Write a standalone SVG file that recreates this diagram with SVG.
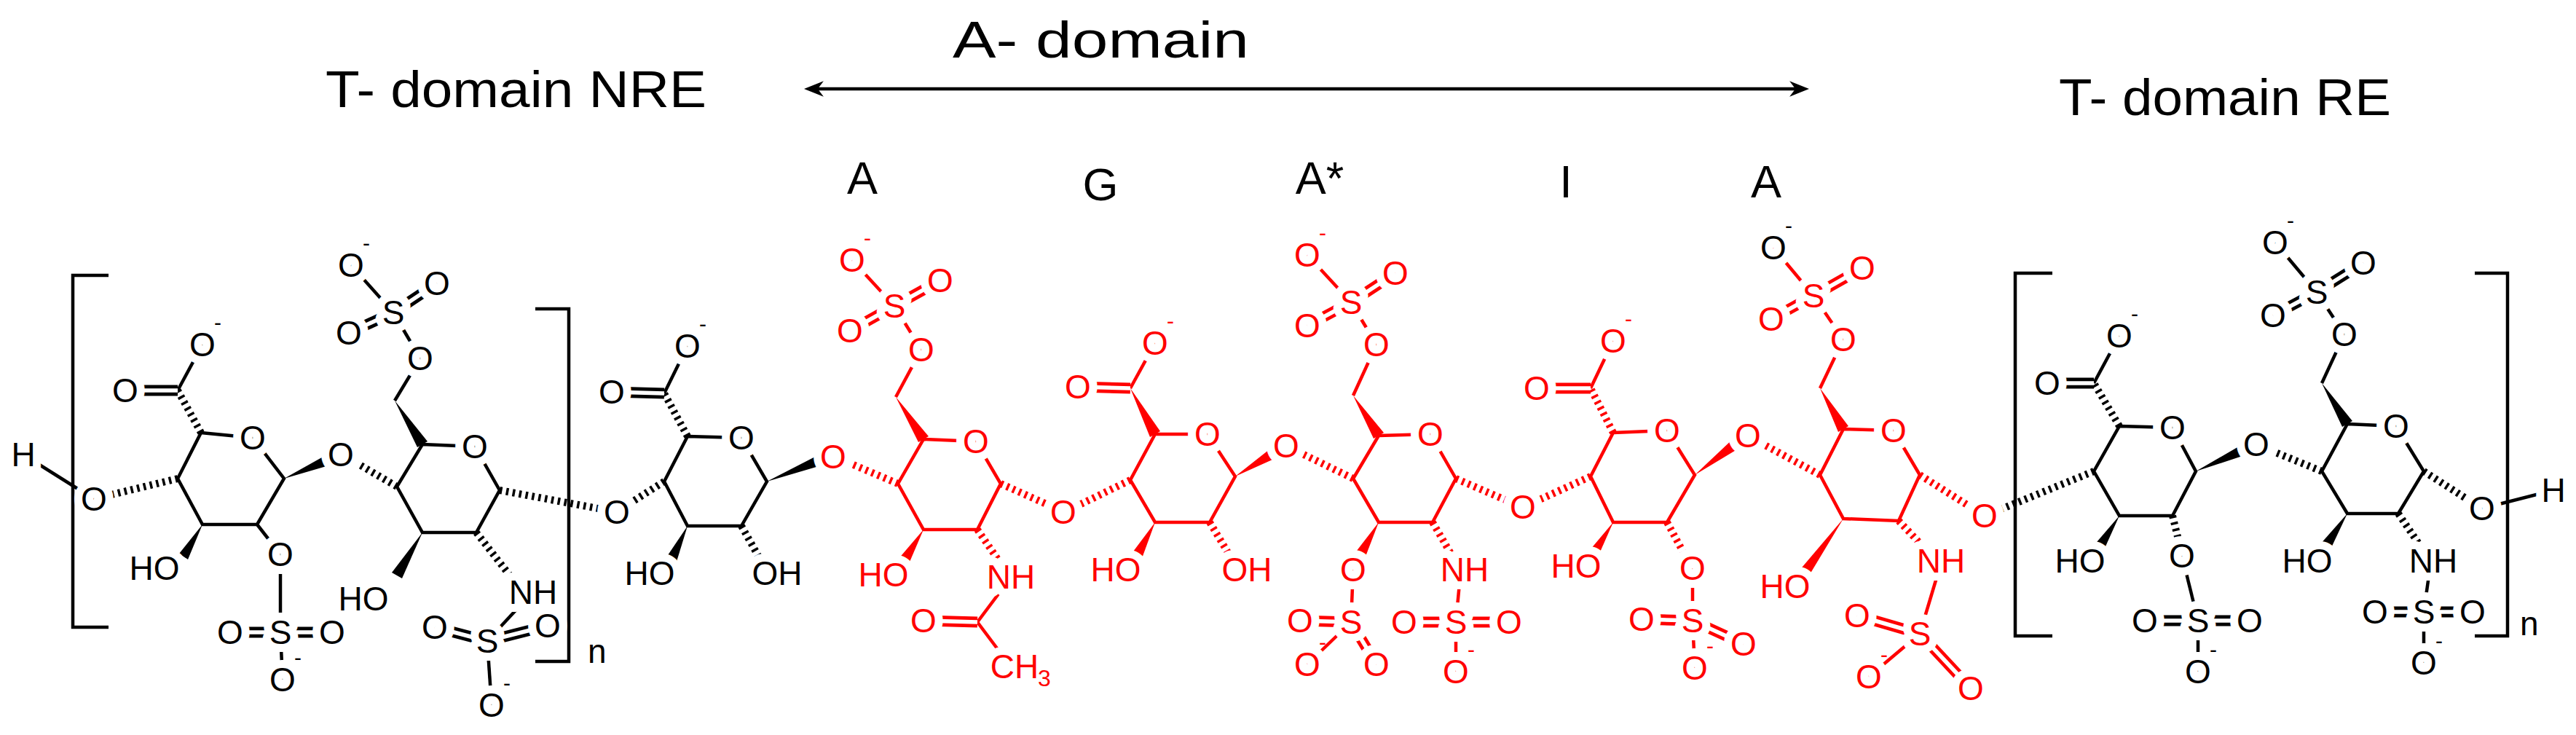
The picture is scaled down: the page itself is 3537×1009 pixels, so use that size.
<svg xmlns="http://www.w3.org/2000/svg" width="3537" height="1009" viewBox="0 0 3537 1009">
<defs>
<style>
.k{stroke:#000;fill:#000;color:#000}
.r{stroke:#f00;fill:#f00;color:#f00}
line,path.s{stroke-width:4.5;fill:none;stroke-linecap:butt}
path.ring{stroke-width:4.5;fill:none;stroke-linejoin:miter}
.h{stroke-width:10;stroke-dasharray:3.5 5.5}
.d1{stroke-width:15}
.d2{stroke:#fff;stroke-width:5.5}
polygon{stroke:none}
text{font-family:"Liberation Sans",Arial,sans-serif;stroke:none}
.t{font-size:46px;text-anchor:middle;dominant-baseline:central;stroke:#fff;stroke-width:22px;paint-order:stroke;stroke-linejoin:round}
.m{font-size:30px;text-anchor:middle;stroke:none}
.big{font-size:70px;fill:#000}
.let{font-size:63px;fill:#000;text-anchor:middle}
</style>
<marker id="ah" viewBox="0 0 20 20" refX="14" refY="10" markerWidth="6" markerHeight="6" orient="auto-start-reverse" markerUnits="strokeWidth">
<path d="M0,2 L20,10 L0,18 L6,10 Z" fill="#000"/>
</marker>
</defs>
<rect width="3537" height="1009" fill="#fff"/>

<g id="titles">
<text class="big" x="447" y="147" textLength="523" lengthAdjust="spacingAndGlyphs">T- domain NRE</text>
<text class="big" x="1308" y="79" textLength="407" lengthAdjust="spacingAndGlyphs">A- domain</text>
<text class="big" x="2827" y="158" textLength="456" lengthAdjust="spacingAndGlyphs">T- domain RE</text>
<text class="let" x="1184" y="266">A</text>
<text class="let" x="1511" y="275">G</text>
<text class="let" x="1812" y="266">A*</text>
<text class="let" x="2150" y="271">I</text>
<text class="let" x="2425" y="271">A</text>
</g>

<g id="connectors">
<line x1="1112" y1="122" x2="2476" y2="122" stroke="#000" stroke-width="5" marker-start="url(#ah)" marker-end="url(#ah)"/>
</g>

<g id="brackets" class="k">
<path class="s" d="M149,378 H100 V861 H149"/>
<path class="s" d="M735,424 H781 V908 H735"/>
<text x="807" y="910" style="font-size:46px;fill:#000">n</text>
<path class="s" d="M2818,375 H2767 V873 H2818"/>
<path class="s" d="M3398,375 H3443 V873 H3398"/>
<text x="3460" y="872" style="font-size:46px;fill:#000">n</text>
</g>

<g id="U1" class="k">
<path class="ring" d="M276,594 L347,601 L390,657 L353,720 L278,720 L244,657 Z"/>
<line class="h" x1="276" y1="594" x2="244" y2="536"/>
<line class="h" x1="244" y1="657" x2="145" y2="681"/>
<line x1="244" y1="536" x2="278" y2="473"/>
<line x1="32" y1="624" x2="129" y2="685"/>
<line x1="353" y1="720" x2="385" y2="761"/>
<line x1="385" y1="761" x2="385" y2="868"/>
<line x1="385" y1="868" x2="388" y2="933"/>
<line class="d1" x1="244" y1="536" x2="172" y2="536"/><line class="d2" x1="244" y1="536" x2="172" y2="536"/>
<line class="d1" x1="385" y1="868" x2="316" y2="868"/><line class="d2" x1="385" y1="868" x2="316" y2="868"/>
<line class="d1" x1="385" y1="868" x2="456" y2="868"/><line class="d2" x1="385" y1="868" x2="456" y2="868"/>
<polygon points="278,720 246,760 258,768"/>
<polygon points="390,657 455,638 449,624"/>
<text class="t" x="347" y="601">O</text>
<text class="t" x="172" y="536">O</text>
<text class="t" x="278" y="473">O</text><text class="m" x="299" y="453">-</text>
<text class="t" x="32" y="624">H</text>
<text class="t" x="212" y="780">HO</text>
<text class="t" x="385" y="761">O</text>
<text class="t" x="385" y="868">S</text>
<text class="t" x="316" y="868">O</text>
<text class="t" x="456" y="868">O</text>
<text class="t" x="388" y="933">O</text><text class="m" x="409" y="913">-</text>
</g>

<g id="N1" class="k">
<path class="ring" d="M580,610 L652,613 L686,673 L654,731 L580,731 L545,668 Z"/>
<line class="h" x1="545" y1="668" x2="480" y2="630"/>
<line class="h" x1="654" y1="731" x2="700" y2="790"/>
<line class="h" x1="686" y1="673" x2="832" y2="700"/>
<line x1="542" y1="550" x2="577" y2="492"/>
<line x1="577" y1="492" x2="540" y2="429"/>
<line x1="540" y1="429" x2="482" y2="364"/>
<line x1="720" y1="825" x2="669" y2="880"/>
<line x1="669" y1="880" x2="675" y2="968"/>
<line class="d1" x1="540" y1="429" x2="600" y2="389"/><line class="d2" x1="540" y1="429" x2="600" y2="389"/>
<line class="d1" x1="540" y1="429" x2="479" y2="457"/><line class="d2" x1="540" y1="429" x2="479" y2="457"/>
<line class="d1" x1="669" y1="880" x2="597" y2="861"/><line class="d2" x1="669" y1="880" x2="597" y2="861"/>
<line class="d1" x1="669" y1="880" x2="752" y2="859"/><line class="d2" x1="669" y1="880" x2="752" y2="859"/>
<polygon points="542,550 573,614 587,606"/>
<polygon points="580,731 538,786 552,794"/>
<text class="t" x="652" y="613">O</text>
<text class="t" x="577" y="492">O</text>
<text class="t" x="540" y="429">S</text>
<text class="t" x="482" y="364">O</text><text class="m" x="503" y="344">-</text>
<text class="t" x="600" y="389">O</text>
<text class="t" x="479" y="457">O</text>
<text class="t" x="499" y="822">HO</text>
<text class="t" x="732" y="813">NH</text>
<text class="t" x="669" y="880">S</text>
<text class="t" x="597" y="861">O</text>
<text class="t" x="752" y="859">O</text>
<text class="t" x="675" y="968">O</text><text class="m" x="696" y="948">-</text>
</g>

<g id="U2" class="k">
<path class="ring" d="M944,599 L1018,601 L1053,661 L1018,722 L944,722 L912,661 Z"/>
<line class="h" x1="944" y1="599" x2="912" y2="540"/>
<line class="h" x1="912" y1="661" x2="860" y2="694"/>
<line class="h" x1="1018" y1="722" x2="1045" y2="770"/>
<line x1="912" y1="540" x2="944" y2="475"/>
<line class="d1" x1="912" y1="540" x2="840" y2="538"/><line class="d2" x1="912" y1="540" x2="840" y2="538"/>
<polygon points="944,722 915,765 929,771"/>
<polygon points="1053,661 1131,638 1125,624"/>
<text class="t" x="1018" y="601">O</text>
<text class="t" x="840" y="538">O</text>
<text class="t" x="944" y="475">O</text><text class="m" x="965" y="455">-</text>
<text class="t" x="892" y="787">HO</text>
<text class="t" x="1067" y="787">OH</text>
</g>

<g id="N2" class="r">
<path class="ring" d="M1268,603 L1340,606 L1374,664 L1342,727 L1268,727 L1233,664 Z"/>
<line class="h" x1="1233" y1="664" x2="1160" y2="633"/>
<line class="h" x1="1342" y1="727" x2="1375" y2="775"/>
<line class="h" x1="1374" y1="664" x2="1448" y2="697"/>
<line x1="1230" y1="545" x2="1265" y2="480"/>
<line x1="1265" y1="480" x2="1228" y2="420"/>
<line x1="1228" y1="420" x2="1170" y2="357"/>
<line x1="1375" y1="810" x2="1342" y2="854"/>
<line x1="1342" y1="854" x2="1375" y2="898"/>
<line class="d1" x1="1228" y1="420" x2="1291" y2="385"/><line class="d2" x1="1228" y1="420" x2="1291" y2="385"/>
<line class="d1" x1="1228" y1="420" x2="1167" y2="454"/><line class="d2" x1="1228" y1="420" x2="1167" y2="454"/>
<line class="d1" x1="1342" y1="854" x2="1268" y2="852"/><line class="d2" x1="1342" y1="854" x2="1268" y2="852"/>
<polygon points="1230,545 1261,607 1275,599"/>
<polygon points="1268,727 1233,768 1247,776"/>
<text class="t" x="1340" y="606">O</text>
<text class="t" x="1265" y="480">O</text>
<text class="t" x="1228" y="420">S</text>
<text class="t" x="1170" y="357">O</text><text class="m" x="1191" y="337">-</text>
<text class="t" x="1291" y="385">O</text>
<text class="t" x="1167" y="454">O</text>
<text class="t" x="1213" y="789">HO</text>
<text class="t" x="1388" y="792">NH</text>
<text class="t" x="1268" y="852">O</text>
<text class="t" x="1393" y="915">CH</text>
<text class="m" x="1434" y="942" style="font-size:32px">3</text>
</g>

<g id="G" class="r">
<path class="ring" d="M1586,596 L1658,596 L1696,654 L1661,717 L1586,717 L1552,659 Z"/>
<line class="h" x1="1552" y1="659" x2="1474" y2="697"/>
<line class="h" x1="1661" y1="717" x2="1690" y2="765"/>
<line x1="1552" y1="533" x2="1586" y2="471"/>
<line class="d1" x1="1552" y1="533" x2="1480" y2="531"/><line class="d2" x1="1552" y1="533" x2="1480" y2="531"/>
<polygon points="1552,533 1579,600 1593,592"/>
<polygon points="1586,717 1553,761 1567,769"/>
<polygon points="1696,654 1756,627 1748,613"/>
<text class="t" x="1658" y="596">O</text>
<text class="t" x="1480" y="531">O</text>
<text class="t" x="1586" y="471">O</text><text class="m" x="1607" y="451">-</text>
<text class="t" x="1532" y="782">HO</text>
<text class="t" x="1712" y="782">OH</text>
</g>

<g id="N3" class="r">
<path class="ring" d="M1893,598 L1964,596 L1999,657 L1967,717 L1893,717 L1858,657 Z"/>
<line class="h" x1="1858" y1="657" x2="1780" y2="619"/>
<line class="h" x1="1967" y1="717" x2="1995" y2="765"/>
<line class="h" x1="1999" y1="657" x2="2078" y2="691"/>
<line x1="1858" y1="543" x2="1890" y2="473"/>
<line x1="1890" y1="473" x2="1855" y2="415"/>
<line x1="1855" y1="415" x2="1795" y2="350"/>
<line x1="1858" y1="782" x2="1855" y2="854"/>
<line x1="1855" y1="854" x2="1795" y2="912"/>
<line x1="2005" y1="790" x2="1999" y2="854"/>
<line x1="1999" y1="854" x2="1999" y2="922"/>
<line class="d1" x1="1855" y1="415" x2="1916" y2="375"/><line class="d2" x1="1855" y1="415" x2="1916" y2="375"/>
<line class="d1" x1="1855" y1="415" x2="1795" y2="447"/><line class="d2" x1="1855" y1="415" x2="1795" y2="447"/>
<line class="d1" x1="1855" y1="854" x2="1785" y2="852"/><line class="d2" x1="1855" y1="854" x2="1785" y2="852"/>
<line class="d1" x1="1855" y1="854" x2="1890" y2="912"/><line class="d2" x1="1855" y1="854" x2="1890" y2="912"/>
<line class="d1" x1="1999" y1="854" x2="1928" y2="854"/><line class="d2" x1="1999" y1="854" x2="1928" y2="854"/>
<line class="d1" x1="1999" y1="854" x2="2072" y2="854"/><line class="d2" x1="1999" y1="854" x2="2072" y2="854"/>
<polygon points="1858,543 1886,602 1900,594"/>
<polygon points="1893,717 1859,761 1873,769"/>
<text class="t" x="1964" y="596">O</text>
<text class="t" x="1890" y="473">O</text>
<text class="t" x="1855" y="415">S</text>
<text class="t" x="1795" y="350">O</text><text class="m" x="1816" y="330">-</text>
<text class="t" x="1916" y="375">O</text>
<text class="t" x="1795" y="447">O</text>
<text class="t" x="1858" y="782">O</text>
<text class="t" x="1855" y="854">S</text>
<text class="t" x="1785" y="852">O</text>
<text class="t" x="1795" y="912">O</text><text class="m" x="1816" y="892">-</text>
<text class="t" x="1890" y="912">O</text>
<text class="t" x="2011" y="782">NH</text>
<text class="t" x="1999" y="854">S</text>
<text class="t" x="1928" y="854">O</text>
<text class="t" x="2072" y="854">O</text>
<text class="t" x="1999" y="922">O</text><text class="m" x="2020" y="902">-</text>
</g>

<g id="I" class="r">
<path class="ring" d="M2215,594 L2289,591 L2327,652 L2289,717 L2215,717 L2184,654 Z"/>
<line class="h" x1="2215" y1="594" x2="2184" y2="533"/>
<line class="h" x1="2184" y1="654" x2="2105" y2="690"/>
<line class="h" x1="2289" y1="717" x2="2315" y2="765"/>
<line x1="2184" y1="533" x2="2215" y2="468"/>
<line x1="2324" y1="780" x2="2324" y2="852"/>
<line x1="2324" y1="852" x2="2327" y2="917"/>
<line class="d1" x1="2184" y1="533" x2="2110" y2="533"/><line class="d2" x1="2184" y1="533" x2="2110" y2="533"/>
<line class="d1" x1="2324" y1="852" x2="2254" y2="850"/><line class="d2" x1="2324" y1="852" x2="2254" y2="850"/>
<line class="d1" x1="2324" y1="852" x2="2394" y2="884"/><line class="d2" x1="2324" y1="852" x2="2394" y2="884"/>
<polygon points="2215,717 2178,761 2192,769"/>
<polygon points="2327,652 2390,614 2380,602"/>
<text class="t" x="2289" y="591">O</text>
<text class="t" x="2110" y="533">O</text>
<text class="t" x="2215" y="468">O</text><text class="m" x="2236" y="448">-</text>
<text class="t" x="2164" y="777">HO</text>
<text class="t" x="2324" y="780">O</text>
<text class="t" x="2324" y="852">S</text>
<text class="t" x="2254" y="850">O</text>
<text class="t" x="2394" y="884">O</text>
<text class="t" x="2327" y="917">O</text><text class="m" x="2348" y="897">-</text>
</g>

<g id="N4" class="r">
<path class="ring" d="M2531,589 L2600,591 L2636,652 L2607,715 L2531,712 L2499,652 Z"/>
<line class="h" x1="2499" y1="652" x2="2414" y2="606"/>
<line class="h" x1="2607" y1="715" x2="2645" y2="755"/>
<line class="h" x1="2636" y1="652" x2="2712" y2="700"/>
<line x1="2499" y1="533" x2="2531" y2="466"/>
<line x1="2531" y1="466" x2="2490" y2="406"/>
<line x1="2490" y1="406" x2="2435" y2="340"/>
<line x1="2660" y1="790" x2="2636" y2="870"/>
<line x1="2636" y1="870" x2="2566" y2="929"/>
<line class="d1" x1="2490" y1="406" x2="2557" y2="368"/><line class="d2" x1="2490" y1="406" x2="2557" y2="368"/>
<line class="d1" x1="2490" y1="406" x2="2432" y2="438"/><line class="d2" x1="2490" y1="406" x2="2432" y2="438"/>
<line class="d1" x1="2636" y1="870" x2="2550" y2="845"/><line class="d2" x1="2636" y1="870" x2="2550" y2="845"/>
<line class="d1" x1="2636" y1="870" x2="2706" y2="945"/><line class="d2" x1="2636" y1="870" x2="2706" y2="945"/>
<polygon points="2499,533 2524,593 2538,585"/>
<polygon points="2531,712 2469,785 2481,795"/>
<text class="t" x="2600" y="591">O</text>
<text class="t" x="2531" y="466">O</text>
<text class="t" x="2490" y="406">S</text>
<text class="t" x="2435" y="340" fill="#000">O</text><text class="m" x="2456" y="320" fill="#000">-</text>
<text class="t" x="2557" y="368">O</text>
<text class="t" x="2432" y="438">O</text>
<text class="t" x="2451" y="805">HO</text>
<text class="t" x="2665" y="770">NH</text>
<text class="t" x="2636" y="870">S</text>
<text class="t" x="2550" y="845">O</text>
<text class="t" x="2566" y="929">O</text><text class="m" x="2587" y="909">-</text>
<text class="t" x="2706" y="945">O</text>
</g>

<g id="U5" class="k">
<path class="ring" d="M2910,585 L2983,587 L3015,647 L2983,708 L2910,708 L2875,647 Z"/>
<line class="h" x1="2910" y1="585" x2="2875" y2="526"/>
<line class="h" x1="2875" y1="647" x2="2740" y2="702"/>
<line class="h" x1="2983" y1="708" x2="2992" y2="745"/>
<line x1="2875" y1="526" x2="2910" y2="461"/>
<line x1="2996" y1="763" x2="3018" y2="852"/>
<line x1="3018" y1="852" x2="3018" y2="922"/>
<line class="d1" x1="2875" y1="526" x2="2811" y2="526"/><line class="d2" x1="2875" y1="526" x2="2811" y2="526"/>
<line class="d1" x1="3018" y1="852" x2="2945" y2="852"/><line class="d2" x1="3018" y1="852" x2="2945" y2="852"/>
<line class="d1" x1="3018" y1="852" x2="3089" y2="852"/><line class="d2" x1="3018" y1="852" x2="3089" y2="852"/>
<polygon points="2910,708 2873,751 2887,759"/>
<polygon points="3015,647 3085,624 3079,610"/>
<text class="t" x="2983" y="587">O</text>
<text class="t" x="2811" y="526">O</text>
<text class="t" x="2910" y="461">O</text><text class="m" x="2931" y="441">-</text>
<text class="t" x="2856" y="770">HO</text>
<text class="t" x="2996" y="763">O</text>
<text class="t" x="3018" y="852">S</text>
<text class="t" x="2945" y="852">O</text>
<text class="t" x="3089" y="852">O</text>
<text class="t" x="3018" y="922">O</text><text class="m" x="3039" y="902">-</text>
</g>

<g id="N5" class="k">
<path class="ring" d="M3223,582 L3290,585 L3328,647 L3293,705 L3223,705 L3188,647 Z"/>
<line class="h" x1="3188" y1="647" x2="3112" y2="616"/>
<line class="h" x1="3293" y1="705" x2="3325" y2="752"/>
<line class="h" x1="3328" y1="647" x2="3395" y2="690"/>
<line x1="3188" y1="526" x2="3219" y2="459"/>
<line x1="3219" y1="459" x2="3181" y2="401"/>
<line x1="3181" y1="401" x2="3124" y2="333"/>
<line x1="3335" y1="790" x2="3328" y2="840"/>
<line x1="3328" y1="840" x2="3328" y2="910"/>
<line x1="3408" y1="698" x2="3506" y2="673"/>
<line class="d1" x1="3181" y1="401" x2="3245" y2="361"/><line class="d2" x1="3181" y1="401" x2="3245" y2="361"/>
<line class="d1" x1="3181" y1="401" x2="3121" y2="433"/><line class="d2" x1="3181" y1="401" x2="3121" y2="433"/>
<line class="d1" x1="3328" y1="840" x2="3261" y2="840"/><line class="d2" x1="3328" y1="840" x2="3261" y2="840"/>
<line class="d1" x1="3328" y1="840" x2="3395" y2="840"/><line class="d2" x1="3328" y1="840" x2="3395" y2="840"/>
<polygon points="3188,526 3216,586 3230,578"/>
<polygon points="3223,705 3185,748 3199,756"/>
<text class="t" x="3290" y="585">O</text>
<text class="t" x="3219" y="459">O</text>
<text class="t" x="3181" y="401">S</text>
<text class="t" x="3124" y="333">O</text><text class="m" x="3145" y="313">-</text>
<text class="t" x="3245" y="361">O</text>
<text class="t" x="3121" y="433">O</text>
<text class="t" x="3168" y="770">HO</text>
<text class="t" x="3341" y="770">NH</text>
<text class="t" x="3328" y="840">S</text>
<text class="t" x="3261" y="840">O</text>
<text class="t" x="3395" y="840">O</text>
<text class="t" x="3328" y="910">O</text><text class="m" x="3349" y="890">-</text>
<text class="t" x="3408" y="698">O</text>
<text class="t" x="3506" y="673">H</text>
</g>

<g id="linkages">
<text class="t" x="129" y="685" fill="#000">O</text>
<text class="t" x="468" y="624" fill="#000">O</text>
<text class="t" x="847" y="703" fill="#000">O</text>
<text class="t" x="1144" y="627" fill="#f00">O</text>
<text class="t" x="1460" y="703" fill="#f00">O</text>
<text class="t" x="1766" y="612" fill="#f00">O</text>
<text class="t" x="2091" y="696" fill="#f00">O</text>
<text class="t" x="2400" y="598" fill="#f00">O</text>
<text class="t" x="2725" y="708" fill="#f00">O</text>
<text class="t" x="3098" y="610" fill="#000">O</text>
</g>
</svg>
